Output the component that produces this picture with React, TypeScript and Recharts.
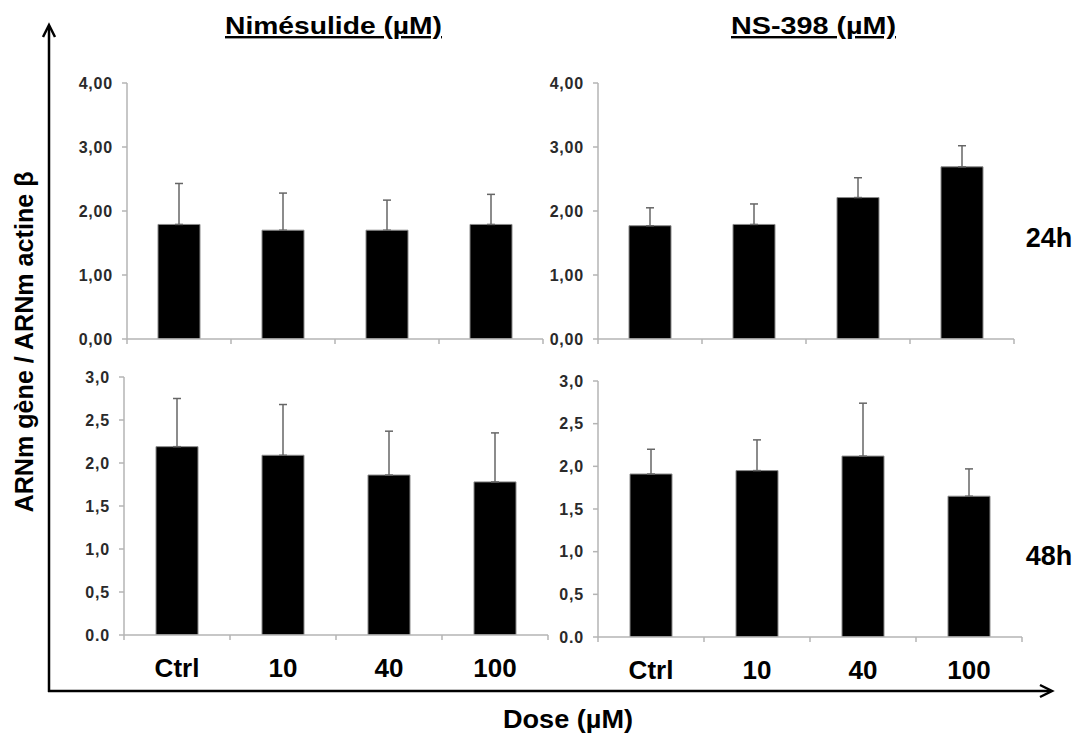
import React from 'react';
import { BarChart, Bar, XAxis, YAxis, ErrorBar } from 'recharts';

const doses = ['Ctrl', '10', '40', '100'];

const nimesulide24 = [1.79, 1.7, 1.7, 1.79];
const nimesulide24Err = [0.64, 0.58, 0.47, 0.47];
const ns398_24 = [1.77, 1.79, 2.21, 2.69];
const ns398_24Err = [0.28, 0.32, 0.31, 0.33];

const nimesulide48 = [2.19, 2.09, 1.86, 1.78];
const nimesulide48Err = [0.56, 0.59, 0.51, 0.57];
const ns398_48 = [1.91, 1.95, 2.12, 1.65];
const ns398_48Err = [0.29, 0.36, 0.62, 0.32];

const ticks24 = [0, 1, 2, 3, 4];
const tickLabels24 = ['0,00', '1,00', '2,00', '3,00', '4,00'];
const ticks48 = [0, 0.5, 1, 1.5, 2, 2.5, 3];
const tickLabels48 = ['0.0', '0,5', '1,0', '1,5', '2,0', '2,5', '3,0'];

const titles = ['Nimésulide (µM)', 'NS-398 (µM)'];
const timeLabels = ['24h', '48h'];
const yTitle = 'ARNm gène / ARNm actine β';
const xTitle = 'Dose (µM)';

const FONT = '"Liberation Sans", Arial, Helvetica, sans-serif';
const AXIS_GRAY = '#b4b4b4';

function buildData(values: number[], errs: number[]) {
  return doses.map((d, i) => ({ dose: d, value: values[i], err: [0, errs[i]] }));
}

function CatTick(props: any) {
  const { x, y, payload, index, band, show, count } = props;
  return (
    <g>
      <line x1={x - band / 2} x2={x - band / 2} y1={y - 5} y2={y} stroke={AXIS_GRAY} strokeWidth={1.5} />
      {index === count - 1 && (
        <line x1={x + band / 2} x2={x + band / 2} y1={y - 5} y2={y} stroke={AXIS_GRAY} strokeWidth={1.5} />
      )}
      {show && (
        <text x={x} y={y + 37} textAnchor="middle" fontFamily={FONT} fontWeight="bold" fontSize={26} fill="#000">
          {payload.value}
        </text>
      )}
    </g>
  );
}

function ValTick(props: any) {
  const { x, y, payload, ticks, labels } = props;
  const label = labels[ticks.indexOf(payload.value)];
  return (
    <text x={x} y={y} dy="0.36em" textAnchor="end" fontFamily={FONT} fontWeight="bold" fontSize={16} letterSpacing={0.8} fill="#2a2a2a">
      {label}
    </text>
  );
}

type PanelProps = {
  plotLeft: number;
  plotTop: number;
  plotW: number;
  plotH: number;
  values: number[];
  errs: number[];
  ticks: number[];
  labels: string[];
  showLabels: boolean;
};

function Panel({ plotLeft, plotTop, plotW, plotH, values, errs, ticks, labels, showLabels }: PanelProps) {
  const yw = 70;
  const mt = 14;
  const mr = 10;
  const xh = showLabels ? 50 : 20;
  const width = yw + plotW + mr;
  const height = mt + plotH + xh;
  const band = plotW / doses.length;
  const data = buildData(values, errs);
  return (
    <div style={{ position: 'absolute', left: plotLeft - yw, top: plotTop - mt, width, height }}>
      <BarChart width={width} height={height} data={data} margin={{ top: mt, right: mr, bottom: 0, left: 0 }}>
        <XAxis
          dataKey="dose"
          height={xh}
          interval={0}
          tickSize={5}
          tickMargin={0}
          tickLine={false}
          axisLine={{ stroke: AXIS_GRAY, strokeWidth: 1.5 }}
          tick={<CatTick band={band} show={showLabels} count={doses.length} />}
        />
        <YAxis
          width={yw}
          domain={[0, ticks[ticks.length - 1]]}
          ticks={ticks}
          interval={0}
          allowDataOverflow
          tickSize={5}
          tickMargin={9}
          axisLine={{ stroke: AXIS_GRAY, strokeWidth: 1.5 }}
          tickLine={{ stroke: AXIS_GRAY, strokeWidth: 1.5 }}
          tick={<ValTick ticks={ticks} labels={labels} />}
        />
        <Bar dataKey="value" fill="#000" stroke="#8a8a8a" strokeWidth={1} barSize={42} isAnimationActive={false}>
          <ErrorBar dataKey="err" direction="y" width={4} stroke="#666" strokeWidth={1.5} />
        </Bar>
      </BarChart>
    </div>
  );
}

export default function App() {
  return (
    <div style={{ position: 'absolute', left: 0, top: 0, width: 1076, height: 735, background: '#fff', overflow: 'hidden' }}>
      <Panel plotLeft={127} plotTop={83} plotW={416} plotH={256} values={nimesulide24} errs={nimesulide24Err} ticks={ticks24} labels={tickLabels24} showLabels={false} />
      <Panel plotLeft={598} plotTop={83} plotW={416} plotH={256} values={ns398_24} errs={ns398_24Err} ticks={ticks24} labels={tickLabels24} showLabels={false} />
      <Panel plotLeft={124} plotTop={377} plotW={424} plotH={258} values={nimesulide48} errs={nimesulide48Err} ticks={ticks48} labels={tickLabels48} showLabels={true} />
      <Panel plotLeft={598} plotTop={381} plotW={424} plotH={256} values={ns398_48} errs={ns398_48Err} ticks={ticks48} labels={tickLabels48} showLabels={true} />
      <svg width={1076} height={735} style={{ position: 'absolute', left: 0, top: 0, pointerEvents: 'none' }}>
        <line x1={49} y1={692} x2={49} y2={26} stroke="#000" strokeWidth={2.5} />
        <polyline points="43,37 49,25 55,37" fill="none" stroke="#000" strokeWidth={2.5} />
        <line x1={48} y1={691} x2={1051} y2={691} stroke="#000" strokeWidth={2.5} />
        <polyline points="1040,685 1052,691 1040,697" fill="none" stroke="#000" strokeWidth={2.5} />
        <text x={333.5} y={34} textAnchor="middle" fontFamily={FONT} fontWeight="bold" fontSize={24} textDecoration="underline" textLength={217} lengthAdjust="spacingAndGlyphs">{titles[0]}</text>
        <text x={813.5} y={34} textAnchor="middle" fontFamily={FONT} fontWeight="bold" fontSize={24} textDecoration="underline" textLength={165} lengthAdjust="spacingAndGlyphs">{titles[1]}</text>
        <text x={1049} y={247} textAnchor="middle" fontFamily={FONT} fontWeight="bold" fontSize={27}>{timeLabels[0]}</text>
        <text x={1049} y={565} textAnchor="middle" fontFamily={FONT} fontWeight="bold" fontSize={27}>{timeLabels[1]}</text>
        <text x={33} y={342} textAnchor="middle" fontFamily={FONT} fontWeight="bold" fontSize={25} transform="rotate(-90, 33, 342)" textLength={341} lengthAdjust="spacingAndGlyphs">{yTitle}</text>
        <text x={568} y={728} textAnchor="middle" fontFamily={FONT} fontWeight="bold" fontSize={25} textLength={130} lengthAdjust="spacingAndGlyphs">{xTitle}</text>
      </svg>
    </div>
  );
}
